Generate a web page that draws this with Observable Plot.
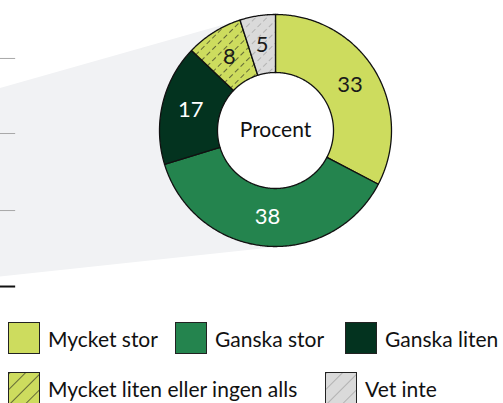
<!DOCTYPE html>
<html><head><meta charset="utf-8">
<script src="https://cdn.jsdelivr.net/npm/d3@7"></script>
<script src="https://cdn.jsdelivr.net/npm/@observablehq/plot@0.6"></script>
<style>
body{margin:0;background:#fff;font-family:Lato,"Open Sans",sans-serif;}
#wrap{position:relative;width:503px;height:403px;overflow:hidden;}
#chart{position:absolute;left:0;top:0;}
.item{position:absolute;display:flex;align-items:center;font-size:21px;color:#111;white-space:nowrap;}
.sw{width:30px;height:30px;border:1px solid #222;box-sizing:content-box;margin-right:8px;}
.sw svg{display:block}
</style></head><body>
<svg width="0" height="0" style="position:absolute">
  <defs>
    <pattern id="hatchGreen" patternUnits="userSpaceOnUse" width="8" height="8" patternTransform="rotate(45)">
      <rect width="8" height="8" fill="#cddc5e"></rect>
      <line x1="0" y1="0" x2="0" y2="8" stroke="#1a1a1a" stroke-width="1.2" stroke-dasharray="5 3"></line>
    </pattern>
    <pattern id="hatchGray" patternUnits="userSpaceOnUse" width="8" height="8" patternTransform="rotate(45)">
      <rect width="8" height="8" fill="#dadada"></rect>
      <line x1="0" y1="0" x2="0" y2="8" stroke="#8a8a8a" stroke-width="1" stroke-dasharray="5 3"></line>
    </pattern>
    <pattern id="hatchGreenL" patternUnits="userSpaceOnUse" width="11" height="11" patternTransform="rotate(45)">
      <rect width="11" height="11" fill="#cddc5e"></rect>
      <line x1="0" y1="0" x2="0" y2="11" stroke="#1a1a1a" stroke-width="1.2"></line>
    </pattern>
    <pattern id="hatchGrayL" patternUnits="userSpaceOnUse" width="11" height="11" patternTransform="rotate(45)">
      <rect width="11" height="11" fill="#dadada"></rect>
      <line x1="0" y1="0" x2="0" y2="11" stroke="#8a8a8a" stroke-width="1"></line>
    </pattern>
  </defs>
</svg>
<div id="wrap"><div id="chart"></div></div>
<script>
// ---- data ----
const categories = ["Mycket stor", "Ganska stor", "Ganska liten", "Mycket liten eller ingen alls", "Vet inte"];
const values = [33, 38, 17, 8, 5];
const sliceFills = ["#cddc5e", "#24844e", "#03331f", "url(#hatchGreen)", "url(#hatchGray)"];
const legendFills = ["#cddc5e", "#24844e", "#03331f", "url(#hatchGreenL)", "url(#hatchGrayL)"];
const labelColors = ["#1a1a1a", "#ffffff", "#ffffff", "#1a1a1a", "#1a1a1a"];
const centerLabel = "Procent";
// background connector (from the cropped bar chart on the left), in donut-radius units
const funnel = [
  {x: -2.45, y: 0.345}, {x: -0.293, y: 0.957}, {x: -0.905, y: 0},
  {x: 0.121, y: -0.991}, {x: -2.45, y: -1.267}
];
const axisTicks = [
  {y: 0.621, stroke: "#a8a8a8", w: 1},
  {y: -0.026, stroke: "#a8a8a8", w: 1},
  {y: -0.690, stroke: "#a8a8a8", w: 1},
  {y: -1.345, stroke: "#111111", w: 2}
];
// legend layout
const legendPos = [
  {left: 8, top: 322}, {left: 175, top: 322}, {left: 345, top: 322},
  {left: 8, top: 372}, {left: 325, top: 372}
];

// ---- geometry ----
const W = 503, H = 300, k = 116, cx = 275, cy = 130;
const R = 1, r0 = 0.5, rl = 0.75;
const pie = d3.pie().sort(null).value(d => d)(values);
const slices = pie.map((p, i) => {
  const pts = [];
  const n = Math.max(6, Math.ceil((p.endAngle - p.startAngle) / 0.01));
  for (let j = 0; j <= n; j++) { const a = p.startAngle + (p.endAngle - p.startAngle) * j / n; pts.push({x: R * Math.sin(a), y: R * Math.cos(a)}); }
  for (let j = n; j >= 0; j--) { const a = p.startAngle + (p.endAngle - p.startAngle) * j / n; pts.push({x: r0 * Math.sin(a), y: r0 * Math.cos(a)}); }
  pts.push(pts[0]);
  const mid = (p.startAngle + p.endAngle) / 2;
  return {category: categories[i], value: values[i], fill: sliceFills[i], color: labelColors[i], pts,
          lx: rl * Math.sin(mid), ly: rl * Math.cos(mid)};
});

const marks = [
  Plot.line(funnel, {x: "x", y: "y", fill: "#f1f2f4", stroke: "none", curve: "linear-closed"}),
  ...axisTicks.map(t => Plot.ruleY([t], {y: "y", x1: -2.45, x2: -2.24, stroke: t.stroke, strokeWidth: t.w})),
  ...slices.map(s => Plot.line(s.pts, {x: "x", y: "y", fill: s.fill, stroke: "#111", strokeWidth: 1.3, strokeLinejoin: "round"})),
  Plot.text(slices, {x: "lx", y: "ly", text: d => String(d.value), fill: d => d.color, fontSize: 22}),
  Plot.text([centerLabel], {x: 0, y: 0, text: d => d, fill: "#111", fontSize: 21})
];

const chart = Plot.plot({
  width: W, height: H,
  marginTop: 0, marginBottom: 0, marginLeft: 0, marginRight: 0,
  x: {domain: [-cx / k, (W - cx) / k], axis: null},
  y: {domain: [-(H - cy) / k, cy / k], axis: null},
  color: {type: "identity"},
  style: {fontFamily: "Lato, 'Open Sans', sans-serif", background: "transparent", overflow: "visible"},
  marks
});
document.getElementById("chart").appendChild(chart);

// ---- legend ----
const wrap = document.getElementById("wrap");
categories.forEach((c, i) => {
  const item = document.createElement("div");
  item.className = "item";
  item.style.left = legendPos[i].left + "px";
  item.style.top = legendPos[i].top + "px";
  item.innerHTML = `<div class="sw"><svg width="30" height="30"><rect width="30" height="30" fill="${legendFills[i]}"></rect></svg></div><span>${c}</span>`;
  wrap.appendChild(item);
});
</script>
</body></html>
